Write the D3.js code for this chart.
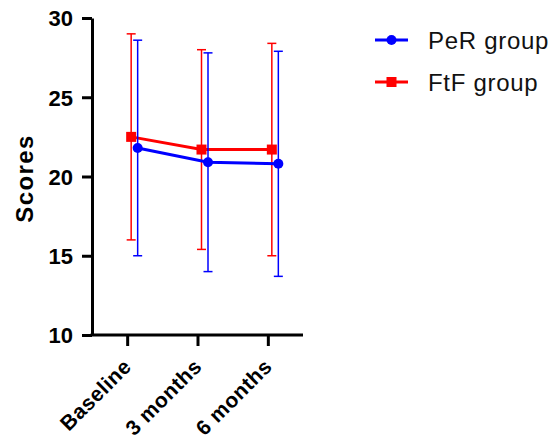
<!DOCTYPE html>
<html>
<head>
<meta charset="utf-8">
<script src="https://cdn.jsdelivr.net/npm/d3@7"></script>
<style>
  body { margin: 0; background: #fff; }
  text { font-family: Arial, "Liberation Sans", sans-serif; }
</style>
</head>
<body>
<svg id="chart" width="554" height="446"></svg>
<script>
// data
const timepoints = ["Baseline", "3 months", "6 months"];
const perMean = [21.8, 20.9, 20.8];
const perUpper = [28.6, 27.8, 27.9];
const perLower = [15.0, 14.0, 13.7];
const ftfMean = [22.5, 21.7, 21.7];
const ftfUpper = [29.0, 28.0, 28.4];
const ftfLower = [16.0, 15.4, 15.0];
const yTicks = [10, 15, 20, 25, 30];

const svg = d3.select("#chart");

const plotLeft = 92;
const plotRight = 303;
const plotTop = 18;
const plotBottom = 335;

const x = d3.scalePoint().domain(timepoints).range([plotLeft, plotRight]).padding(0.5);
const y = d3.scaleLinear().domain([10, 30]).range([plotBottom, plotTop]);

// error bars + lines for each group
function drawGroup(mean, upper, lower, color, nudge, marker) {
  const g = svg.append("g");
  const cx = (d, i) => x(timepoints[i]) + nudge;

  // vertical bars
  g.selectAll("line.bar")
    .data(mean)
    .join("line")
    .attr("x1", cx).attr("x2", cx)
    .attr("y1", (d, i) => y(upper[i]))
    .attr("y2", (d, i) => y(lower[i]))
    .attr("stroke", color)
    .attr("stroke-width", 1.5);

  // caps
  [upper, lower].forEach(vals => {
    g.selectAll(null)
      .data(vals)
      .join("line")
      .attr("x1", (d, i) => cx(d, i) - 4.5)
      .attr("x2", (d, i) => cx(d, i) + 4.5)
      .attr("y1", d => y(d))
      .attr("y2", d => y(d))
      .attr("stroke", color)
      .attr("stroke-width", 1.5);
  });

  const line = d3.line().x((d, i) => cx(d, i)).y(d => y(d));
  g.append("path")
    .datum(mean)
    .attr("d", line)
    .attr("fill", "none")
    .attr("stroke", color)
    .attr("stroke-width", 3);

  if (marker === "circle") {
    g.selectAll("circle")
      .data(mean)
      .join("circle")
      .attr("cx", cx)
      .attr("cy", d => y(d))
      .attr("r", 5)
      .attr("fill", color);
  } else {
    g.selectAll("rect")
      .data(mean)
      .join("rect")
      .attr("x", (d, i) => cx(d, i) - 5)
      .attr("y", d => y(d) - 5)
      .attr("width", 10)
      .attr("height", 10)
      .attr("fill", color);
  }
}

drawGroup(ftfMean, ftfUpper, ftfLower, "#ff0000", 4, "square");
drawGroup(perMean, perUpper, perLower, "#0000ff", 10.5, "circle");

// y axis
const yAxis = svg.append("g")
  .attr("transform", `translate(${plotLeft},0)`)
  .call(d3.axisLeft(y).tickValues(yTicks).tickSize(10).tickSizeOuter(0));
yAxis.select(".domain").attr("stroke", "#000").attr("stroke-width", 3);
yAxis.selectAll(".tick line").attr("stroke-width", 3);
yAxis.selectAll(".tick text")
  .attr("x", -19)
  .attr("dy", "0.36em")
  .style("font-size", "22px")
  .style("font-weight", "bold")
  .style("font-family", "Arial, 'Liberation Sans', sans-serif")
  .attr("fill", "#000");

// x axis
const xAxis = svg.append("g")
  .attr("transform", `translate(0,${plotBottom})`)
  .call(d3.axisBottom(x).tickSize(11).tickSizeOuter(0));
xAxis.select(".domain").attr("stroke-width", 3).attr("d", `M${plotLeft - 1.5},0H${plotRight}`);
xAxis.selectAll(".tick line").attr("stroke-width", 3);
// rotated labels, kept clear of the bottom edge
xAxis.selectAll(".tick text")
  .attr("text-anchor", "end")
  .attr("transform", "translate(5,33) rotate(-45)")
  .attr("x", 0).attr("y", 0).attr("dy", 0)
  .style("font-size", "21px")
  .style("font-weight", "bold")
  .style("letter-spacing", "0.5px")
  .style("font-family", "Arial, 'Liberation Sans', sans-serif")
  .attr("fill", "#000");

// y label
svg.append("text")
  .attr("transform", `translate(33,${(plotTop + plotBottom) / 2 + 2}) rotate(-90)`)
  .attr("text-anchor", "middle")
  .style("font-size", "24px")
  .style("font-weight", "bold")
  .style("letter-spacing", "1.4px")
  .text("Scores");

// legend
const legendNames = ["PeR group", "FtF group"];
const legendColors = ["#0000ff", "#ff0000"];
const legend = svg.selectAll("g.legend")
  .data(legendNames)
  .join("g")
  .attr("transform", (d, i) => `translate(375,${40 + i * 42})`);
legend.append("line")
  .attr("x1", 0).attr("x2", 33)
  .attr("stroke", (d, i) => legendColors[i])
  .attr("stroke-width", 3);
legend.each(function (d, i) {
  const g = d3.select(this);
  if (i === 0) {
    g.append("circle").attr("cx", 16.5).attr("r", 5).attr("fill", legendColors[i]);
  } else {
    g.append("rect").attr("x", 11.5).attr("y", -5).attr("width", 10).attr("height", 10).attr("fill", legendColors[i]);
  }
});
legend.append("text")
  .attr("x", 53)
  .attr("dy", "0.36em")
  .style("font-size", "24px")
  .style("letter-spacing", "0.7px")
  .attr("fill", "#111")
  .text(d => d);
</script>
</body>
</html>
